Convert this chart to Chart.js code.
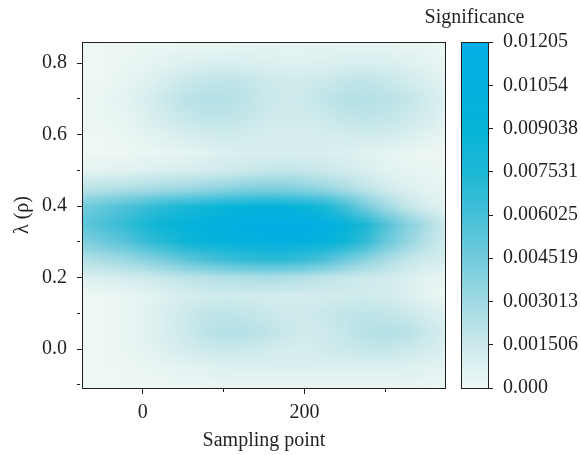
<!DOCTYPE html>
<html lang="en">
<head>
  <meta charset="UTF-8" />
  <title>Significance map</title>
  <script src="https://cdn.jsdelivr.net/npm/chart.js@4"></script>
  <style>
    html, body { margin: 0; padding: 0; background: #fff; }
    .wrap { position: relative; width: 581px; height: 455px; }
    .wrap canvas { position: absolute; left: 0; top: 0; }
  </style>
</head>
<body>
  <div class="wrap">
    <canvas id="mapChart" width="581" height="455"></canvas>
    <canvas id="barChart" width="581" height="455"></canvas>
  </div>

  <script>
    // grid centres (sampling point / lambda)
    const xPoints = [-75, -50, -25, 0, 25, 50, 75, 100, 125, 150, 175, 200, 225, 250, 275, 300, 325, 350, 375];
    const yPoints = [0.85, 0.80, 0.75, 0.70, 0.65, 0.60, 0.55, 0.50, 0.45, 0.40, 0.35, 0.30, 0.25, 0.20, 0.15, 0.10, 0.05, 0.00, -0.05, -0.10];

    // significance in units of 1e-4, one row per yPoints value (top to bottom)
    const significance = [
      [1, 1, 1, 2, 2, 3, 3, 3, 4, 4, 4, 4, 4, 4, 4, 4, 3, 3, 2],
      [1, 1, 2, 3, 5, 7, 9, 9, 9, 8, 7, 7, 8, 9, 9, 9, 7, 5, 3],
      [1, 1, 3, 6, 10, 15, 18, 19, 18, 15, 13, 13, 15, 18, 19, 17, 13, 9, 5],
      [1, 2, 5, 9, 15, 20, 23, 23, 20, 16, 14, 15, 19, 22, 23, 21, 18, 13, 8],
      [1, 2, 3, 7, 12, 16, 19, 19, 17, 14, 13, 13, 15, 18, 19, 18, 15, 11, 6],
      [1, 1, 2, 4, 7, 10, 12, 13, 12, 11, 10, 10, 11, 12, 13, 12, 10, 6, 3],
      [1, 1, 1, 2, 3, 4, 6, 8, 9, 9, 9, 9, 9, 8, 6, 4, 2, 1, 1],
      [4, 5, 6, 7, 9, 10, 11, 13, 15, 17, 18, 17, 15, 12, 9, 6, 4, 3, 2],
      [20, 22, 24, 26, 28, 30, 33, 36, 39, 41, 40, 37, 32, 26, 19, 13, 8, 5, 3],
      [45, 50, 56, 63, 70, 76, 82, 88, 93, 96, 94, 88, 78, 60, 44, 30, 18, 10, 6],
      [52, 58, 66, 76, 86, 95, 102, 108, 113, 118, 120, 119, 112, 95, 76, 56, 40, 26, 14],
      [40, 46, 52, 62, 72, 82, 90, 96, 102, 106, 108, 104, 96, 82, 66, 48, 34, 22, 13],
      [22, 26, 30, 36, 42, 50, 56, 62, 66, 68, 68, 64, 56, 46, 36, 26, 18, 13, 10],
      [7, 9, 11, 13, 16, 19, 21, 23, 24, 25, 24, 22, 19, 16, 14, 12, 9, 5, 3],
      [1, 1, 2, 4, 7, 10, 12, 13, 13, 12, 11, 11, 12, 13, 13, 12, 8, 4, 2],
      [1, 1, 2, 5, 9, 14, 18, 19, 18, 16, 14, 14, 16, 18, 19, 18, 15, 11, 7],
      [1, 1, 2, 5, 9, 14, 20, 23, 23, 20, 16, 13, 14, 18, 22, 23, 22, 16, 11],
      [1, 1, 2, 4, 7, 11, 14, 16, 15, 13, 11, 11, 13, 15, 17, 17, 15, 12, 8],
      [1, 1, 1, 2, 3, 5, 6, 7, 8, 8, 8, 8, 8, 8, 8, 8, 7, 6, 5],
      [1, 1, 1, 1, 1, 2, 2, 3, 3, 3, 3, 3, 3, 3, 3, 3, 3, 2, 2]
    ];

    const xTicks = [0, 100, 200, 300];
    const xTickLabels = ['0', '', '200', ''];
    const yTicks = [-0.1, 0, 0.1, 0.2, 0.3, 0.4, 0.5, 0.6, 0.7, 0.8];
    const yTickLabels = ['', '0.0', '', '0.2', '', '0.4', '', '0.6', '', '0.8'];

    const cbMax = 0.01205;
    const cbTicks = [0, 0.001506, 0.003013, 0.004519, 0.006025, 0.007531, 0.009038, 0.01054, 0.01205];
    const cbTickLabels = ['0.000', '0.001506', '0.003013', '0.004519', '0.006025', '0.007531', '0.009038', '0.01054', '0.01205'];

    // colour map
    const cmapStops = [0, 0.125, 0.25, 0.375, 0.5, 0.625, 0.75, 0.875, 1];
    const cmapColors = ['#eff8f5', '#cbe9eb', '#9fd9e3', '#72cbdc', '#44bfd7', '#1cb8d5', '#06b4d8', '#03b1de', '#02aee6'];

    const ink = '#231f20';
    Chart.defaults.font.family = "'Liberation Serif', 'DejaVu Serif', serif";
    Chart.defaults.font.size = 20;
    Chart.defaults.color = ink;

    const hexRgb = (h) => {
      const n = parseInt(h.slice(1), 16);
      return [n >> 16, (n >> 8) & 255, n & 255];
    };
    const cmapRgb = cmapColors.map(hexRgb);

    function colorAt(t) {
      t = Math.max(0, Math.min(1, t));
      for (let i = 1; i < cmapStops.length; i++) {
        if (t <= cmapStops[i]) {
          const f = (t - cmapStops[i - 1]) / (cmapStops[i] - cmapStops[i - 1]);
          const a = cmapRgb[i - 1], b = cmapRgb[i];
          return a.map((c, k) => Math.round(c + (b[k] - c) * f));
        }
      }
      return cmapRgb[cmapRgb.length - 1];
    }

    // heat map cells, drawn as a small image placed through the scales
    const heatPlugin = {
      id: 'heat',
      beforeDatasetsDraw(chart) {
        const { ctx, chartArea, scales: { x, y } } = chart;
        const cols = xPoints.length, rows = yPoints.length;
        const off = document.createElement('canvas');
        off.width = cols;
        off.height = rows;
        const octx = off.getContext('2d');
        const img = octx.createImageData(cols, rows);
        significance.forEach((row, r) => row.forEach((v, c) => {
          const rgb = colorAt(v * 1e-4 / cbMax);
          const i = (r * cols + c) * 4;
          img.data[i] = rgb[0];
          img.data[i + 1] = rgb[1];
          img.data[i + 2] = rgb[2];
          img.data[i + 3] = 255;
        }));
        octx.putImageData(img, 0, 0);

        const dx = (xPoints[1] - xPoints[0]) / 2;
        const dy = (yPoints[0] - yPoints[1]) / 2;
        const left = x.getPixelForValue(xPoints[0] - dx);
        const right = x.getPixelForValue(xPoints[cols - 1] + dx);
        const top = y.getPixelForValue(yPoints[0] + dy);
        const bottom = y.getPixelForValue(yPoints[rows - 1] - dy);

        ctx.save();
        ctx.beginPath();
        ctx.rect(chartArea.left, chartArea.top, chartArea.width, chartArea.height);
        ctx.clip();
        ctx.imageSmoothingEnabled = true;
        ctx.drawImage(off, left, top, right - left, bottom - top);
        ctx.restore();
      },
      afterDraw(chart) {
        const { ctx, chartArea: a } = chart;
        ctx.save();
        ctx.strokeStyle = ink;
        ctx.lineWidth = 1;
        ctx.strokeRect(Math.round(a.left) - 0.5, Math.round(a.top) + 0.5, Math.round(a.width) + 1, Math.round(a.height));
        ctx.restore();
      }
    };

    new Chart(document.getElementById('mapChart'), {
      type: 'scatter',
      data: { datasets: [] },
      options: {
        responsive: false,
        animation: false,
        devicePixelRatio: 1,
        layout: { padding: { left: 0, top: 42, right: 136, bottom: 0 } },
        plugins: { legend: { display: false }, tooltip: { enabled: false } },
        scales: {
          x: {
            type: 'linear', min: -74, max: 374,
            afterBuildTicks: (s) => { s.ticks = xTicks.map(v => ({ value: v })); },
            afterFit: (s) => { s.height = 67; },
            ticks: { callback: (v, i) => xTickLabels[i], padding: 7, maxRotation: 0, autoSkip: false },
            grid: {
              drawOnChartArea: false, tickLength: 6, color: ink,
              tickBorderDash: (c) => xTickLabels[c.index] ? [] : [3, 20]
            },
            border: { color: ink },
            title: { display: true, text: 'Sampling point', padding: { top: 0, bottom: 2 } }
          },
          y: {
            type: 'linear', min: -0.109, max: 0.859,
            afterBuildTicks: (s) => { s.ticks = yTicks.map(v => ({ value: v })); },
            afterFit: (s) => { s.width = 83; },
            ticks: { callback: (v, i) => yTickLabels[i], padding: 10, autoSkip: false },
            grid: {
              drawOnChartArea: false, tickLength: 6, color: ink,
              tickBorderDash: (c) => yTickLabels[c.index] ? [] : [3, 20]
            },
            border: { color: ink },
            title: { display: true, text: 'λ (ρ)', padding: { top: 11, bottom: 0 } }
          }
        }
      },
      plugins: [heatPlugin]
    });

    // colour bar
    const barPlugin = {
      id: 'colorbar',
      beforeDatasetsDraw(chart) {
        const { ctx, chartArea: a } = chart;
        const g = ctx.createLinearGradient(0, a.bottom, 0, a.top);
        cmapStops.forEach((s, i) => g.addColorStop(s, cmapColors[i]));
        ctx.save();
        ctx.fillStyle = g;
        ctx.fillRect(a.left, a.top, a.width, a.height);
        ctx.restore();
      },
      afterDraw(chart) {
        const { ctx, chartArea: a } = chart;
        ctx.save();
        ctx.strokeStyle = ink;
        ctx.lineWidth = 1;
        ctx.strokeRect(Math.round(a.left) + 0.5, Math.round(a.top) + 0.5, Math.round(a.width), Math.round(a.height));
        ctx.fillStyle = ink;
        ctx.font = "20px 'Liberation Serif', serif";
        ctx.textAlign = 'center';
        ctx.textBaseline = 'middle';
        ctx.fillText('Significance', (a.left + a.right) / 2, a.top - 24);
        ctx.restore();
      }
    };

    new Chart(document.getElementById('barChart'), {
      type: 'scatter',
      data: { datasets: [] },
      options: {
        responsive: false,
        animation: false,
        devicePixelRatio: 1,
        layout: { padding: { left: 461, top: 42, right: 0, bottom: 67 } },
        plugins: { legend: { display: false }, tooltip: { enabled: false } },
        scales: {
          x: { type: 'linear', display: false },
          y: {
            position: 'right', min: 0, max: cbMax,
            afterBuildTicks: (s) => { s.ticks = cbTicks.map(v => ({ value: v })); },
            afterFit: (s) => { s.width = 93; },
            ticks: { callback: (v, i) => cbTickLabels[i], padding: 10, autoSkip: false },
            grid: { drawOnChartArea: false, tickLength: 5, color: ink },
            border: { color: ink }
          }
        }
      },
      plugins: [barPlugin]
    });
  </script>
</body>
</html>
